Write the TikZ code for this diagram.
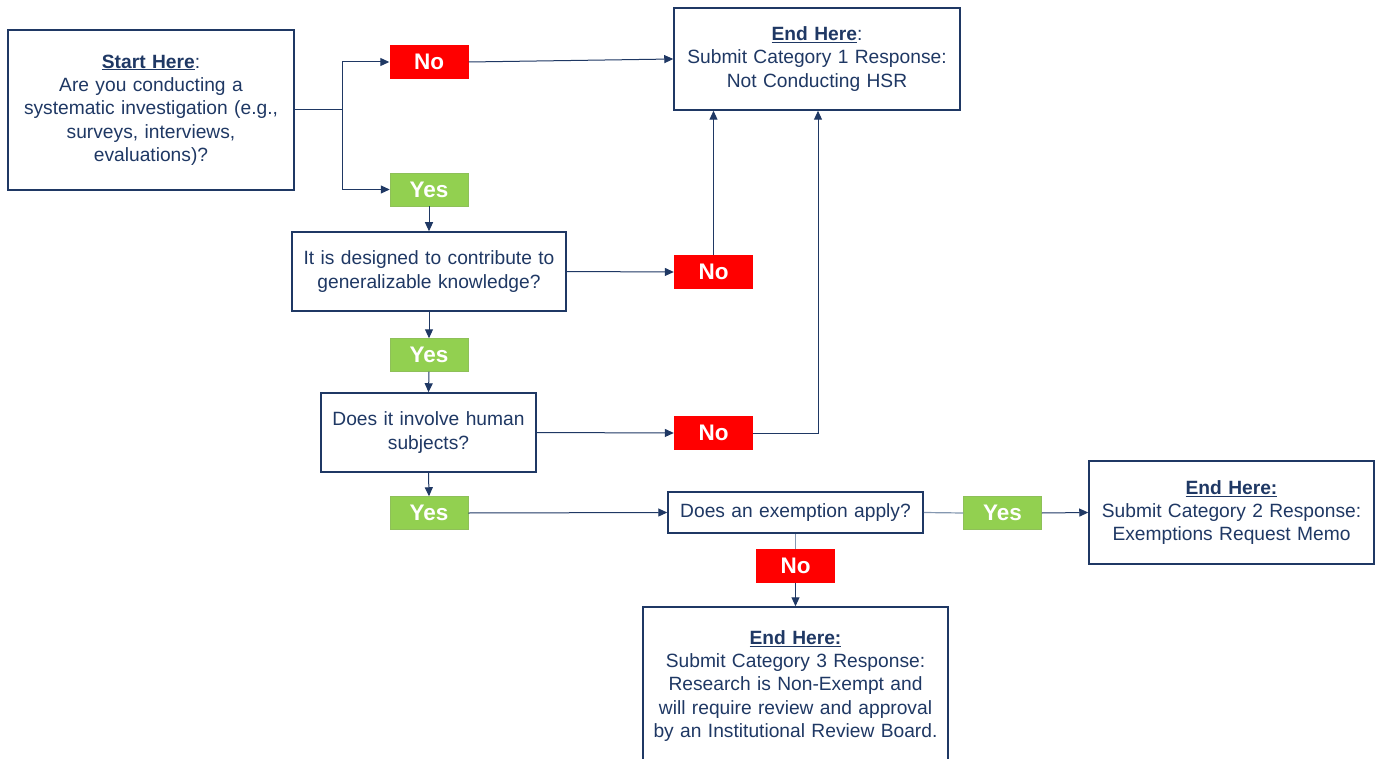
\documentclass[tikz,border=0pt]{standalone}
\usepackage{fontspec}
\setmainfont{Liberation Sans}
\usetikzlibrary{arrows.meta,calc}
\definecolor{navy}{HTML}{1F3864}
\definecolor{redbox}{HTML}{FF0000}
\definecolor{greenbox}{HTML}{92D050}
\definecolor{grayline}{HTML}{8497B0}
\tikzset{
  box/.style={draw=navy, line width=1.5pt, fill=white, text=navy, align=center,
    font=\fontsize{19.2}{23.3}\selectfont, inner sep=0pt},
  nobox/.style={fill=redbox, text=white, font=\bfseries\fontsize{22.5}{26}\selectfont,
    minimum width=79pt, minimum height=34pt, inner sep=0pt},
  yesbox/.style={fill=greenbox, draw=greenbox!80!gray, line width=0.5pt, text=white, font=\bfseries\fontsize{22.5}{26}\selectfont,
    minimum width=78pt, minimum height=33pt, inner sep=0pt},
  arr/.style={draw=navy, line width=1pt, -{Triangle[length=9pt,width=8pt]}},
  ln/.style={draw=navy, line width=1pt},
  gln/.style={draw=grayline, line width=1.2pt},
}
\begin{document}
\begin{tikzpicture}[x=1pt,y=-1pt]
\useasboundingbox (0,0) rectangle (1378,759);
\fill[white] (0,0) rectangle (1378,759);

\node[box, minimum width=286pt, minimum height=160pt, text width=280pt] (start) at (151,110)
  {\textbf{\underline{Start Here}}:\\Are you conducting a\\systematic investigation (e.g.,\\surveys, interviews,\\evaluations)?};
\node[box, minimum width=286pt, minimum height=102pt, text width=280pt] (end1) at (817,59)
  {\textbf{\underline{End Here}}:\\Submit Category 1 Response:\\Not Conducting HSR};
\node[box, minimum width=274pt, minimum height=79pt, text width=268pt] (q2) at (429,271.5)
  {It is designed to contribute to\\generalizable knowledge?};
\node[box, minimum width=215pt, minimum height=79pt, text width=209pt] (q3) at (428.5,432.5)
  {Does it involve human\\subjects?};
\node[box, minimum width=255pt, minimum height=41pt, text width=249pt] (q4) at (795.5,512.5)
  {Does an exemption apply?};
\node[box, minimum width=285pt, minimum height=103pt, text width=279pt] (end2) at (1231.5,512.5)
  {\textbf{\underline{End Here:}}\\Submit Category 2 Response:\\Exemptions Request Memo};
\node[box, minimum width=305pt, minimum height=158pt, text width=299pt] (end3) at (795.5,686)
  {\textbf{\underline{End Here:}}\\Submit Category 3 Response:\\Research is Non-Exempt and\\will require review and approval\\by an Institutional Review Board.};

\node[nobox] (no1) at (429,62) {No};
\node[yesbox] (yes1) at (429,189.5) {Yes};
\node[nobox] (no2) at (713.5,272) {No};
\node[yesbox] (yes2) at (429,355) {Yes};
\node[nobox] (no3) at (713.5,433) {No};
\node[yesbox] (yes3) at (429,513) {Yes};
\node[yesbox] (yes4) at (1002.5,513) {Yes};
\node[nobox] (no4) at (795.5,566) {No};

\coordinate (sj) at (342,110);
\draw[ln] (start.east) -- (sj);
\draw[arr] (sj) |- (no1.west);
\draw[arr] (sj) |- (yes1.west);
\draw[arr] (no1.east) -- (end1.west);
\draw[arr] (yes1.south) -- (q2.north);
\draw[arr] (q2.east) -- (no2.west);
\draw[arr] (no2.north) -- (no2.north |- end1.south);
\draw[arr] (q2.south) -- (yes2.north);
\draw[arr] (yes2.south) -- (q3.north);
\draw[arr] (q3.east) -- (no3.west);
\draw[arr] (no3.east) -| ([xshift=1pt]end1.south);
\draw[arr] (q3.south) -- (yes3.north);
\draw[arr] (yes3.east) -- (q4.west);
\draw[gln] (q4.east) -- (yes4.west);
\draw[arr] (yes4.east) -- (end2.west);
\draw[gln] (q4.south) -- (no4.north);
\draw[arr] (no4.south) -- (end3.north);
\end{tikzpicture}
\end{document}
